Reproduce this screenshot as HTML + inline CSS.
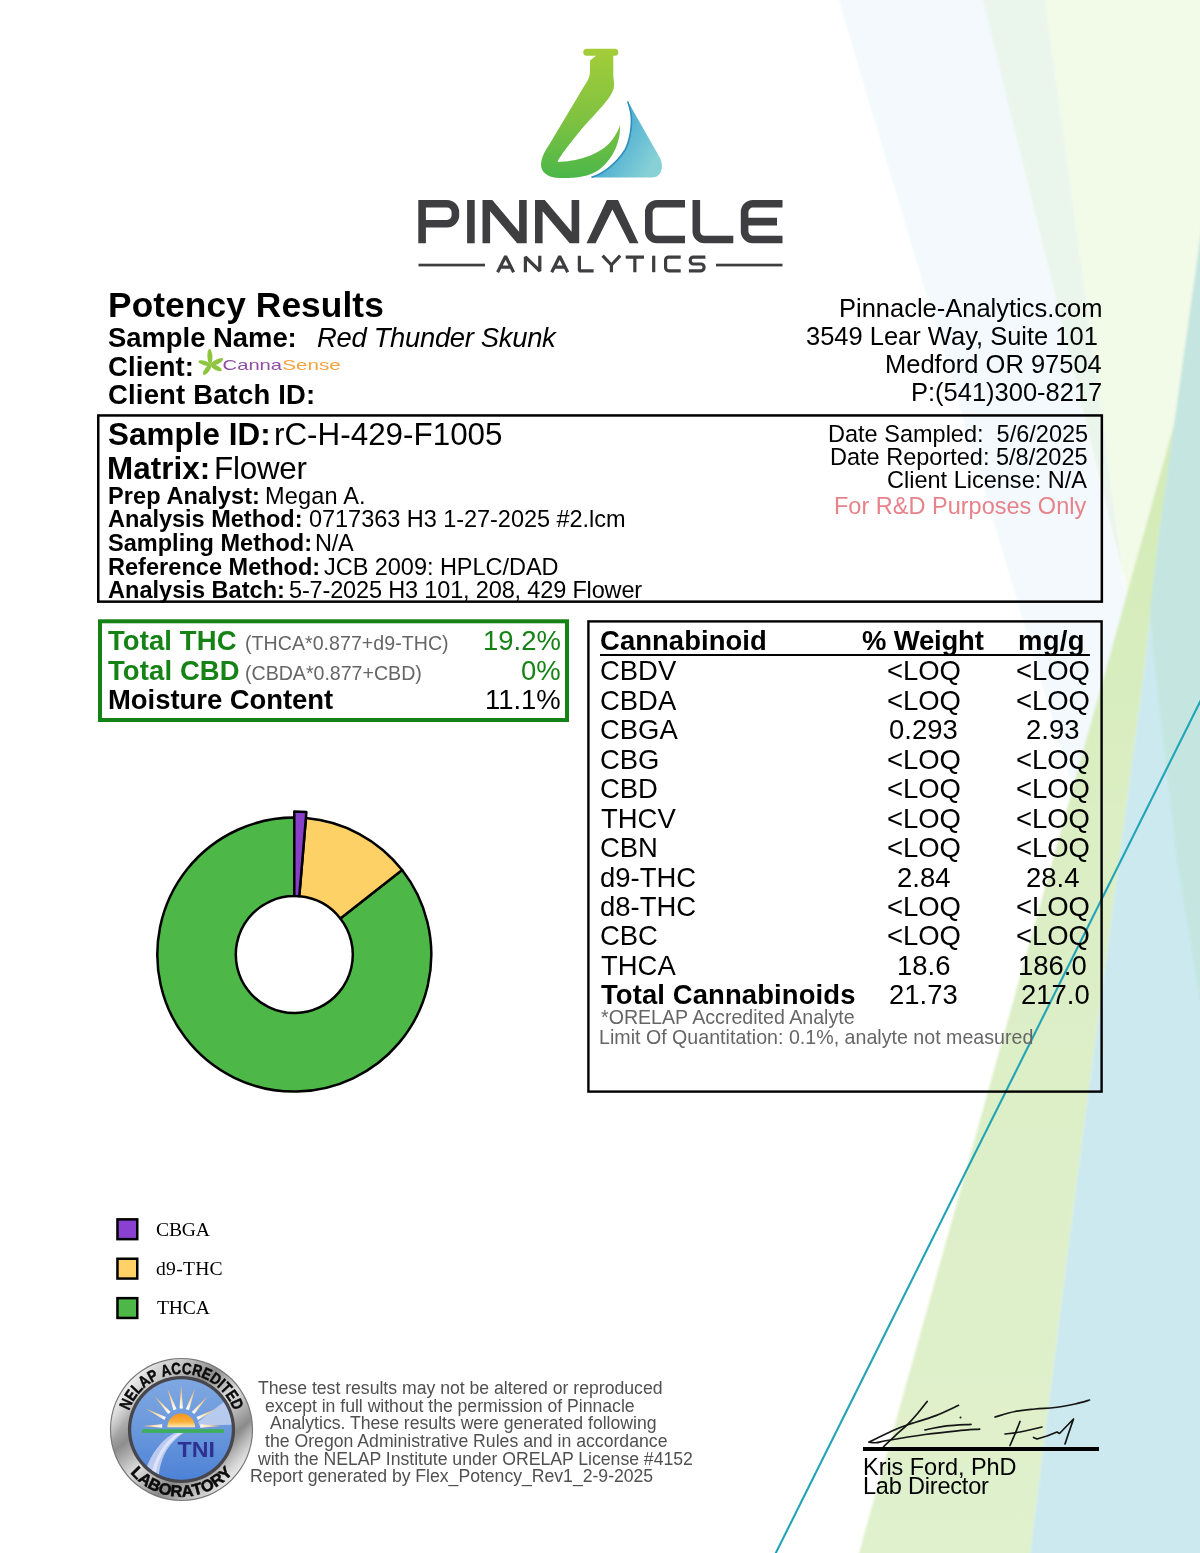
<!DOCTYPE html>
<html lang="en">
<head>
<meta charset="utf-8">
<title>Potency Results - Pinnacle Analytics</title>
<style>
html,body{margin:0;padding:0;background:#fff;}
body{width:1200px;height:1553px;position:relative;overflow:hidden;font-family:"Liberation Sans",sans-serif;color:#000;}
.t{position:absolute;white-space:pre;line-height:1;margin:0;padding:0;will-change:transform;}
.box{position:absolute;box-sizing:content-box;}
svg{position:absolute;left:0;top:0;overflow:visible;}
</style>
</head>
<body>
<svg width="1200" height="1553" viewBox="0 0 1200 1553">
<defs>
<filter id="bgBlur" x="-5%" y="-5%" width="110%" height="110%"><feGaussianBlur stdDeviation="1.3"/></filter>
<linearGradient id="bgLime" gradientUnits="userSpaceOnUse" x1="0" y1="430" x2="0" y2="1553"><stop offset="0" stop-color="#d3ebb6"/><stop offset="0.35" stop-color="#dbeec4"/><stop offset="1" stop-color="#e0f1cd"/></linearGradient>
</defs>
<g filter="url(#bgBlur)">
<polygon points="1036.6,-60 1260,-60 1260,890 1127,597" fill="#f2fae8"/>
<polygon points="821,-60 968.5,-60 1200,900 1260,1149 1260,1418 1200,1216" fill="#f3f9fc"/>
<polygon points="968.5,-60 1036.6,-60 1124,580" fill="#eaf5ec"/>
<polygon points="1260,425 1260,1620 1021.6,1620 1030,1553 1078,1170 1119,860 1144,670 1158,541 1174,425" fill="#cce9ef"/>
<polygon points="1174,425 1158,541 1144,670 1119,860 1078,1170 1030,1553 1021.6,1620 840,1620 859,1553 1103,680" fill="url(#bgLime)"/>
<polygon points="1260,-187 1260,1365 1200,1000 1177,860 1154,660 1150,610 1158,541 1174,425 1200,240" fill="#c5e6e0"/>
</g>
<line x1="1201" y1="699.9" x2="774.8" y2="1555" stroke="#23a3b6" stroke-width="2.1"/>
</svg>

<svg width="1200" height="300" viewBox="0 0 1200 300">
<defs>
<linearGradient id="gG" x1="0" y1="0" x2="0" y2="1"><stop offset="0" stop-color="#a4cd39"/><stop offset="0.55" stop-color="#7fc241"/><stop offset="1" stop-color="#4bb749"/></linearGradient>
<linearGradient id="gB" x1="0" y1="0" x2="1" y2="0.6"><stop offset="0" stop-color="#3d9dc9"/><stop offset="0.55" stop-color="#56b4d2"/><stop offset="1" stop-color="#86d0d6"/></linearGradient>
</defs>
<!-- flask green -->
<path fill="url(#gG)" d="M586.8 48.7 H614.8 a3.5 3.5 0 0 1 0 7.1 H613.3 V74 C613.3 80 615 84 613.5 89 C610 101 590 118 576 136 C568 146 560 156 557.5 162 C575 161.5 600 156 612 140 C616.5 134 619 129 620 125 C621 140 614 158 600 169 C590 177 575 178.2 560 178 C548 178 540.5 172 541 164 C541.5 157 545 151 549 145 L583 88 C588 80 590 78 590 70 V60.5 L596 55.8 H586.8 a3.5 3.5 0 0 1 0 -7.1 Z"/>
<!-- flask blue -->
<path fill="url(#gB)" d="M627.5 100.8 L660 158 C664 166 662 177.5 652 177.5 H590.8 C603 174 617 163 625 150 C630 141 632.5 125 631 114 C630.3 109 629 105 627.5 100.8 Z"/>
<path fill="none" stroke="#2f8fbd" stroke-width="1.6" d="M627.7 101.5 C629 105 630.3 109 631 114 C632.5 125 630 141 625 150 C617 163 603 174 591.5 177.2"/>
<!-- PINNACLE -->
<g fill="none" stroke="#3e3e40" stroke-width="7.6" stroke-linejoin="miter">
<path d="M422.1 243.3 V203.8 H447 a8.4 8.4 0 0 1 8.4 8.4 V215.3 a8.4 8.4 0 0 1 -8.4 8.4 H422.1"/>
<path d="M470.9 200 V243.3"/>
<path d="M648.8 203.8 m36.2 0 H657 a8.2 8.2 0 0 0 -8.2 8.2 V231.3 a8.2 8.2 0 0 0 8.2 8.2 H685"/>
<path d="M696.3 200 V231.3 a8.2 8.2 0 0 0 8.2 8.2 H733.3"/>
<path d="M782.5 203.8 H752.8 a8.2 8.2 0 0 0 -8.2 8.2 V231.3 a8.2 8.2 0 0 0 8.2 8.2 H782.5 M744.6 221.6 H777"/>
</g>
<g fill="#3e3e40">
<path d="M482.5 243.3 V200 H492.3 L519.1 231.8 V200 H526.7 V243.3 H517.2 L490.1 211.3 V243.3 Z"/>
<path d="M535 243.3 V200 H544.8 L571.6 231.8 V200 H579.2 V243.3 H569.7 L542.6 211.3 V243.3 Z"/>
<path d="M586.5 243.3 L606.8 200 H618 L638.5 243.3 H629.6 L612.4 209.5 L595.6 243.3 Z"/>
</g>
<!-- ANALYTICS -->
<g fill="none" stroke="#3e3e40" stroke-width="3.2" stroke-linejoin="bevel">
<path d="M497.6 272.2 L505.6 256.2 L513.6 272.2 M500.6 267.2 H510.6"/>
<path d="M525.4 272.2 V257 L539.8 271 V255.7"/>
<path d="M551.7 272.2 L559.7 256.2 L567.7 272.2 M554.7 267.2 H564.7"/>
<path d="M579.4 255.7 V270.8 H593.6"/>
<path d="M602.6 255.7 L611.4 265 L620.2 255.7 M611.4 265 V272.2"/>
<path d="M625.7 257.1 H644 M634.85 257.1 V272.2"/>
<path d="M653.7 255.7 V272.2"/>
<path d="M680.7 257.1 H668.6 a3 3 0 0 0 -3 3 V267.8 a3 3 0 0 0 3 3 H680.7"/>
<path d="M705.4 257.1 H693.3 a3 3 0 0 0 -3 3 v0.9 a3 3 0 0 0 3 3 H701 a3 3 0 0 1 3 3 v0.8 a3 3 0 0 1 -3 3 H688.9"/>
</g>
<rect x="418.5" y="263.7" width="66.5" height="2.7" fill="#3e3e40"/>
<rect x="716" y="263.7" width="66.5" height="2.7" fill="#3e3e40"/>
</svg>

<div class="t" style="left:107.71px;top:287px;font-size:35.29px;font-weight:bold;letter-spacing:0.095px;">Potency Results</div>
<div class="t" style="left:108.25px;top:324px;font-size:27.45px;font-weight:bold;letter-spacing:-0.031px;">Sample Name:</div>
<div class="t" style="left:316.68px;top:324px;font-size:27.45px;font-style:italic;letter-spacing:-0.326px;">Red Thunder Skunk</div>
<div class="t" style="left:107.90px;top:353px;font-size:27.45px;font-weight:bold;letter-spacing:0.106px;">Client:</div>
<div class="t" style="left:107.90px;top:381px;font-size:27.45px;font-weight:bold;letter-spacing:0.189px;">Client Batch ID:</div>
<svg width="1200" height="420" viewBox="0 0 1200 420">
<g fill="#8dc540">
<ellipse cx="209.9" cy="356.6" rx="2.5" ry="7.6" transform="rotate(-3 209.9 356.6)"/>
<ellipse cx="217" cy="361.8" rx="2.4" ry="6.8" transform="rotate(63.4 217 361.8)"/>
<ellipse cx="216.4" cy="367.9" rx="2.3" ry="5.9" transform="rotate(116.4 216.4 367.9)"/>
<ellipse cx="207.1" cy="369.8" rx="2.4" ry="6.2" transform="rotate(36.1 207.1 369.8)"/>
<ellipse cx="204.6" cy="363.1" rx="2.3" ry="6.4" transform="rotate(-72.4 204.6 363.1)"/>
</g>
<text x="222.6" y="370.2" font-family="Liberation Sans, sans-serif" font-size="14.6" fill="#8f4ea3" textLength="59.5" lengthAdjust="spacingAndGlyphs">Canna</text>
<text x="282.3" y="370.2" font-family="Liberation Sans, sans-serif" font-size="14.6" fill="#f3a33e" textLength="58.5" lengthAdjust="spacingAndGlyphs">Sense</text>
</svg>

<div class="t" style="left:838.75px;top:296px;font-size:25.49px;">Pinnacle-Analytics.com</div>
<div class="t" style="left:806.35px;top:324px;font-size:25.49px;">3549 Lear Way, Suite 101</div>
<div class="t" style="left:884.51px;top:352px;font-size:25.49px;">Medford OR 97504</div>
<div class="t" style="left:910.51px;top:380px;font-size:25.49px;">P:(541)300-8217</div>
<svg width="1200" height="1553"><rect x="98.25" y="415.45" width="1003.60" height="186.20" fill="none" stroke="#000" stroke-width="2.5"/></svg>
<div class="t" style="left:108.04px;top:419px;font-size:31.37px;font-weight:bold;letter-spacing:0.069px;">Sample ID:</div>
<div class="t" style="left:274.26px;top:419px;font-size:31.37px;letter-spacing:0.016px;">rC-H-429-F1005</div>
<div class="t" style="left:107.36px;top:453px;font-size:31.37px;font-weight:bold;letter-spacing:0.083px;">Matrix:</div>
<div class="t" style="left:214.19px;top:453px;font-size:31.37px;letter-spacing:-0.227px;">Flower</div>
<div class="t" style="left:107.87px;top:485px;font-size:23.53px;font-weight:bold;letter-spacing:0.103px;">Prep Analyst:</div>
<div class="t" style="left:264.82px;top:485px;font-size:23.53px;letter-spacing:0.170px;">Megan A.</div>
<div class="t" style="left:107.91px;top:508px;font-size:23.53px;font-weight:bold;letter-spacing:-0.009px;">Analysis Method:</div>
<div class="t" style="left:308.62px;top:508px;font-size:23.53px;letter-spacing:-0.045px;">0717363 H3 1-27-2025 #2.lcm</div>
<div class="t" style="left:108.15px;top:532px;font-size:23.53px;font-weight:bold;letter-spacing:0.013px;">Sampling Method:</div>
<div class="t" style="left:315.12px;top:532px;font-size:23.53px;letter-spacing:-0.247px;">N/A</div>
<div class="t" style="left:107.97px;top:556px;font-size:23.53px;font-weight:bold;letter-spacing:0.031px;">Reference Method:</div>
<div class="t" style="left:324.15px;top:556px;font-size:23.53px;letter-spacing:-0.044px;">JCB 2009: HPLC/DAD</div>
<div class="t" style="left:108.21px;top:579px;font-size:23.53px;font-weight:bold;letter-spacing:0.035px;">Analysis Batch:</div>
<div class="t" style="left:288.56px;top:579px;font-size:23.53px;letter-spacing:-0.162px;">5-7-2025 H3 101, 208, 429 Flower</div>
<div class="t" style="left:827.55px;top:423px;font-size:23.53px;">Date Sampled:  5/6/2025</div>
<div class="t" style="left:830.14px;top:446px;font-size:23.53px;">Date Reported: 5/8/2025</div>
<div class="t" style="left:887.44px;top:469px;font-size:23.53px;">Client License: N/A</div>
<div class="t" style="left:833.95px;top:495px;font-size:23.53px;color:#e8828a;">For R&amp;D Purposes Only</div>
<svg width="1200" height="1553"><rect x="100.00" y="621.30" width="467.00" height="98.70" fill="none" stroke="#158215" stroke-width="4"/></svg>
<div class="t" style="left:108.23px;top:627px;font-size:27.45px;font-weight:bold;color:#158215;letter-spacing:0.119px;">Total THC</div>
<div class="t" style="left:245.12px;top:634px;font-size:19.61px;color:#666;letter-spacing:0.023px;">(THCA*0.877+d9-THC)</div>
<div class="t" style="left:483.07px;top:627px;font-size:27.45px;color:#158215;">19.2%</div>
<div class="t" style="left:108.23px;top:657px;font-size:27.45px;font-weight:bold;color:#158215;letter-spacing:0.126px;">Total CBD</div>
<div class="t" style="left:245.12px;top:664px;font-size:19.61px;color:#666;letter-spacing:-0.020px;">(CBDA*0.877+CBD)</div>
<div class="t" style="left:521.29px;top:657px;font-size:27.45px;color:#158215;">0%</div>
<div class="t" style="left:107.52px;top:686px;font-size:27.45px;font-weight:bold;letter-spacing:-0.024px;">Moisture Content</div>
<div class="t" style="left:485.13px;top:686px;font-size:27.45px;">11.1%</div>
<svg width="1200" height="1553"><rect x="588.40" y="621.40" width="513.20" height="470.20" fill="none" stroke="#000" stroke-width="2.4"/></svg>
<div class="t" style="left:599.90px;top:627px;font-size:27.45px;font-weight:bold;letter-spacing:0.067px;">Cannabinoid</div>
<div class="t" style="left:862.38px;top:627px;font-size:27.45px;font-weight:bold;letter-spacing:-0.170px;">% Weight</div>
<div class="t" style="left:1018.22px;top:627px;font-size:27.45px;font-weight:bold;letter-spacing:0.343px;">mg/g</div>
<div class="box" style="left:600.00px;top:653.70px;width:490.30px;height:2.30px;background:#000;"></div>
<div class="t" style="left:599.83px;top:657px;font-size:27.45px;">CBDV</div>
<div class="t" style="left:886.71px;top:657px;font-size:27.45px;">&lt;LOQ</div>
<div class="t" style="left:1016.01px;top:657px;font-size:27.45px;">&lt;LOQ</div>
<div class="t" style="left:599.83px;top:687px;font-size:27.45px;">CBDA</div>
<div class="t" style="left:886.71px;top:687px;font-size:27.45px;">&lt;LOQ</div>
<div class="t" style="left:1016.01px;top:687px;font-size:27.45px;">&lt;LOQ</div>
<div class="t" style="left:599.83px;top:716px;font-size:27.45px;">CBGA</div>
<div class="t" style="left:889.42px;top:716px;font-size:27.45px;">0.293</div>
<div class="t" style="left:1026.20px;top:716px;font-size:27.45px;">2.93</div>
<div class="t" style="left:599.83px;top:746px;font-size:27.45px;">CBG</div>
<div class="t" style="left:886.71px;top:746px;font-size:27.45px;">&lt;LOQ</div>
<div class="t" style="left:1016.01px;top:746px;font-size:27.45px;">&lt;LOQ</div>
<div class="t" style="left:599.83px;top:775px;font-size:27.45px;">CBD</div>
<div class="t" style="left:886.71px;top:775px;font-size:27.45px;">&lt;LOQ</div>
<div class="t" style="left:1016.01px;top:775px;font-size:27.45px;">&lt;LOQ</div>
<div class="t" style="left:600.65px;top:805px;font-size:27.45px;">THCV</div>
<div class="t" style="left:886.71px;top:805px;font-size:27.45px;">&lt;LOQ</div>
<div class="t" style="left:1016.01px;top:805px;font-size:27.45px;">&lt;LOQ</div>
<div class="t" style="left:599.83px;top:834px;font-size:27.45px;">CBN</div>
<div class="t" style="left:886.71px;top:834px;font-size:27.45px;">&lt;LOQ</div>
<div class="t" style="left:1016.01px;top:834px;font-size:27.45px;">&lt;LOQ</div>
<div class="t" style="left:600.10px;top:864px;font-size:27.45px;">d9-THC</div>
<div class="t" style="left:896.70px;top:864px;font-size:27.45px;">2.84</div>
<div class="t" style="left:1026.00px;top:864px;font-size:27.45px;">28.4</div>
<div class="t" style="left:600.10px;top:893px;font-size:27.45px;">d8-THC</div>
<div class="t" style="left:886.71px;top:893px;font-size:27.45px;">&lt;LOQ</div>
<div class="t" style="left:1016.01px;top:893px;font-size:27.45px;">&lt;LOQ</div>
<div class="t" style="left:599.83px;top:922px;font-size:27.45px;">CBC</div>
<div class="t" style="left:886.71px;top:922px;font-size:27.45px;">&lt;LOQ</div>
<div class="t" style="left:1016.01px;top:922px;font-size:27.45px;">&lt;LOQ</div>
<div class="t" style="left:600.65px;top:952px;font-size:27.45px;">THCA</div>
<div class="t" style="left:896.56px;top:952px;font-size:27.45px;">18.6</div>
<div class="t" style="left:1018.14px;top:952px;font-size:27.45px;">186.0</div>
<div class="t" style="left:600.53px;top:981px;font-size:27.45px;font-weight:bold;letter-spacing:0.111px;">Total Cannabinoids</div>
<div class="t" style="left:888.85px;top:981px;font-size:27.45px;">21.73</div>
<div class="t" style="left:1020.98px;top:981px;font-size:27.45px;">217.0</div>
<div class="t" style="left:600.71px;top:1008px;font-size:19.61px;color:#666;">*ORELAP Accredited Analyte</div>
<div class="t" style="left:599.43px;top:1028px;font-size:19.61px;color:#666;letter-spacing:0.011px;">Limit Of Quantitation: 0.1%, analyte not measured</div>
<svg width="1200" height="1553" viewBox="0 0 1200 1553">
<g stroke="#000" stroke-width="2.5" stroke-linejoin="round">
<path d="M402.11 870.06 A137.0 137.0 0 1 1 294.30 817.60 L294.30 896.10 A58.5 58.5 0 1 0 340.33 918.50 Z" fill="#4db748"/>
<path d="M305.89 818.09 A137.0 137.0 0 0 1 402.11 870.06 L340.33 918.50 A58.5 58.5 0 0 0 299.25 896.31 Z" fill="#fdd166"/>
<path d="M294.30 811.60 A143.0 143.0 0 0 1 306.40 812.11 L299.25 896.31 A58.5 58.5 0 0 0 294.30 896.10 Z" fill="#8940c9"/>
</g>
</svg>

<svg width="1200" height="1553"><rect x="117.45" y="1219.35" width="19.80" height="19.80" fill="#8a41d1" stroke="#000" stroke-width="2.5"/></svg>
<div class="t" style="left:156.22px;top:1220px;font-size:19.61px;font-family:'Liberation Serif',serif;letter-spacing:-0.176px;">CBGA</div>
<svg width="1200" height="1553"><rect x="117.45" y="1258.75" width="19.80" height="19.80" fill="#ffd166" stroke="#000" stroke-width="2.5"/></svg>
<div class="t" style="left:156.31px;top:1259px;font-size:19.61px;font-family:'Liberation Serif',serif;letter-spacing:0.264px;">d9-THC</div>
<svg width="1200" height="1553"><rect x="117.45" y="1298.15" width="19.80" height="19.80" fill="#4db848" stroke="#000" stroke-width="2.5"/></svg>
<div class="t" style="left:156.66px;top:1298px;font-size:19.61px;font-family:'Liberation Serif',serif;letter-spacing:-0.164px;">THCA</div>
<svg width="1200" height="1553" viewBox="0 0 1200 1553">
<defs>
<linearGradient id="bRing" x1="0.1" y1="0" x2="0.9" y2="1">
<stop offset="0" stop-color="#fafafa"/><stop offset="0.2" stop-color="#c9c9c9"/><stop offset="0.36" stop-color="#8d8d8d"/><stop offset="0.52" stop-color="#dedede"/><stop offset="0.7" stop-color="#8a8a8a"/><stop offset="0.86" stop-color="#d0d0d0"/><stop offset="1" stop-color="#f4f4f4"/>
</linearGradient>
<linearGradient id="bRing2" x1="0" y1="0.2" x2="1" y2="0.8">
<stop offset="0" stop-color="#ffffff" stop-opacity="0.85"/><stop offset="0.18" stop-color="#ffffff" stop-opacity="0"/><stop offset="0.82" stop-color="#ffffff" stop-opacity="0"/><stop offset="1" stop-color="#ffffff" stop-opacity="0.7"/>
</linearGradient>
<linearGradient id="bSky" x1="0" y1="0" x2="0" y2="1"><stop offset="0" stop-color="#7fa8e2"/><stop offset="0.5" stop-color="#6a98dc"/><stop offset="1" stop-color="#4d82d6"/></linearGradient>
<linearGradient id="bSun" x1="0" y1="0" x2="0" y2="1"><stop offset="0" stop-color="#f7931e"/><stop offset="0.6" stop-color="#fbb03b"/><stop offset="1" stop-color="#ffe9b0"/></linearGradient>
<radialGradient id="bRayC" gradientUnits="userSpaceOnUse" cx="181.2" cy="1426.6" r="42"><stop offset="0.42" stop-color="#ffffff"/><stop offset="0.7" stop-color="#fbd9a5"/><stop offset="1" stop-color="#f0a860"/></radialGradient>
<radialGradient id="bRayL" gradientUnits="userSpaceOnUse" cx="181.2" cy="1426.6" r="42"><stop offset="0.42" stop-color="#ffffff"/><stop offset="0.7" stop-color="#fbd9a5"/><stop offset="1" stop-color="#f0a860"/></radialGradient>
<radialGradient id="bRayR" gradientUnits="userSpaceOnUse" cx="181.2" cy="1426.6" r="42"><stop offset="0.42" stop-color="#ffffff"/><stop offset="0.7" stop-color="#fbd9a5"/><stop offset="1" stop-color="#f0a860"/></radialGradient>
<clipPath id="bClip"><circle cx="181.5" cy="1429.5" r="50.3"/></clipPath>
</defs>
<circle cx="181.5" cy="1429.5" r="71.6" fill="#77777a"/>
<circle cx="181.5" cy="1429.5" r="70.4" fill="url(#bRing)"/>
<circle cx="181.5" cy="1429.5" r="70.4" fill="url(#bRing2)"/>
<circle cx="181.5" cy="1429.5" r="53.6" fill="#46464c"/>
<circle cx="181.5" cy="1429.5" r="50.3" fill="url(#bSky)"/>
<g clip-path="url(#bClip)">
<polygon points="198.2,1421.6 236,1392.6 236,1424.6 199.2,1425.6" fill="#c9d6f3" opacity="0.8"/>
<path d="M175.5 1432.5 C160 1440 148 1458 143.5 1478 L158.5 1484 C158.5 1462 166 1444 184.5 1432.5 Z" fill="#bccaf0"/>
<path d="M178.5 1432.5 C164 1441 154 1458 150 1480 L154.5 1482 C156 1461 165 1444 182.5 1432.5 Z" fill="#e4eafb" opacity="0.8"/>
<polygon points="162.2,1424.3 162.2,1427.7 142.7,1426.0" fill="url(#bRayL)"/>
<polygon points="165.9,1416.9 164.4,1419.9 145.6,1408.4" fill="url(#bRayL)"/>
<polygon points="170.7,1411.9 168.1,1414.1 154.3,1395.7" fill="url(#bRayL)"/>
<polygon points="176.6,1409.1 173.4,1410.3 167.2,1388.1" fill="url(#bRayL)"/>
<polygon points="182.9,1408.6 179.5,1408.6 181.2,1384.6" fill="url(#bRayC)"/>
<polygon points="189.0,1410.3 185.8,1409.1 195.2,1388.1" fill="url(#bRayR)"/>
<polygon points="194.3,1414.1 191.7,1411.9 208.1,1395.7" fill="url(#bRayR)"/>
<polygon points="198.0,1419.9 196.5,1416.9 216.8,1408.4" fill="url(#bRayR)"/>
<polygon points="200.2,1427.7 200.2,1424.3 221.2,1426.0" fill="url(#bRayR)"/>
<path d="M167.39999999999998 1427.1999999999998 A13.8 13.8 0 0 1 195.0 1427.1999999999998 Z" fill="url(#bSun)"/>
<rect x="142" y="1429.2" width="82" height="3.7" fill="#3daf5c"/>
</g>
<text x="177.6" y="1456.7" font-family="Liberation Sans, sans-serif" font-weight="bold" font-size="22.4" fill="#2e3192" textLength="37.3" lengthAdjust="spacingAndGlyphs">TNI</text>
<g font-family="Liberation Sans, sans-serif" font-weight="bold" fill="#0a0a0a" stroke="#0a0a0a" stroke-width="0.5">
<text transform="translate(181.5 1429.5) rotate(-65.52) translate(0 -55.60) scale(0.826 1)" text-anchor="middle" font-size="16.2">N</text>
<text transform="translate(181.5 1429.5) rotate(-55.94) translate(0 -55.60) scale(0.826 1)" text-anchor="middle" font-size="16.2">E</text>
<text transform="translate(181.5 1429.5) rotate(-47.13) translate(0 -55.60) scale(0.826 1)" text-anchor="middle" font-size="16.2">L</text>
<text transform="translate(181.5 1429.5) rotate(-37.93) translate(0 -55.60) scale(0.826 1)" text-anchor="middle" font-size="16.2">A</text>
<text transform="translate(181.5 1429.5) rotate(-28.35) translate(0 -55.60) scale(0.826 1)" text-anchor="middle" font-size="16.2">P</text>
<text transform="translate(181.5 1429.5) rotate(-14.94) translate(0 -55.60) scale(0.826 1)" text-anchor="middle" font-size="16.2">A</text>
<text transform="translate(181.5 1429.5) rotate(-4.98) translate(0 -55.60) scale(0.826 1)" text-anchor="middle" font-size="16.2">C</text>
<text transform="translate(181.5 1429.5) rotate(4.98) translate(0 -55.60) scale(0.826 1)" text-anchor="middle" font-size="16.2">C</text>
<text transform="translate(181.5 1429.5) rotate(14.94) translate(0 -55.60) scale(0.826 1)" text-anchor="middle" font-size="16.2">R</text>
<text transform="translate(181.5 1429.5) rotate(24.52) translate(0 -55.60) scale(0.826 1)" text-anchor="middle" font-size="16.2">E</text>
<text transform="translate(181.5 1429.5) rotate(34.10) translate(0 -55.60) scale(0.826 1)" text-anchor="middle" font-size="16.2">D</text>
<text transform="translate(181.5 1429.5) rotate(41.00) translate(0 -55.60) scale(0.826 1)" text-anchor="middle" font-size="16.2">I</text>
<text transform="translate(181.5 1429.5) rotate(47.13) translate(0 -55.60) scale(0.826 1)" text-anchor="middle" font-size="16.2">T</text>
<text transform="translate(181.5 1429.5) rotate(55.94) translate(0 -55.60) scale(0.826 1)" text-anchor="middle" font-size="16.2">E</text>
<text transform="translate(181.5 1429.5) rotate(65.52) translate(0 -55.60) scale(0.826 1)" text-anchor="middle" font-size="16.2">D</text>
<text transform="translate(181.5 1429.5) rotate(45.44) translate(0 67.20) scale(1.021 1)" text-anchor="middle" font-size="16.2">L</text>
<text transform="translate(181.5 1429.5) rotate(36.04) translate(0 67.20) scale(1.021 1)" text-anchor="middle" font-size="16.2">A</text>
<text transform="translate(181.5 1429.5) rotate(25.86) translate(0 67.20) scale(1.021 1)" text-anchor="middle" font-size="16.2">B</text>
<text transform="translate(181.5 1429.5) rotate(15.28) translate(0 67.20) scale(1.021 1)" text-anchor="middle" font-size="16.2">O</text>
<text transform="translate(181.5 1429.5) rotate(4.70) translate(0 67.20) scale(1.021 1)" text-anchor="middle" font-size="16.2">R</text>
<text transform="translate(181.5 1429.5) rotate(-5.48) translate(0 67.20) scale(1.021 1)" text-anchor="middle" font-size="16.2">A</text>
<text transform="translate(181.5 1429.5) rotate(-14.88) translate(0 67.20) scale(1.021 1)" text-anchor="middle" font-size="16.2">T</text>
<text transform="translate(181.5 1429.5) rotate(-24.67) translate(0 67.20) scale(1.021 1)" text-anchor="middle" font-size="16.2">O</text>
<text transform="translate(181.5 1429.5) rotate(-35.25) translate(0 67.20) scale(1.021 1)" text-anchor="middle" font-size="16.2">R</text>
<text transform="translate(181.5 1429.5) rotate(-45.05) translate(0 67.20) scale(1.021 1)" text-anchor="middle" font-size="16.2">Y</text>
</g>
</svg>

<div class="t" style="left:257.65px;top:1380px;font-size:17.65px;color:#505050;letter-spacing:-0.009px;">These test results may not be altered or reproduced</div>
<div class="t" style="left:265.25px;top:1398px;font-size:17.65px;color:#505050;letter-spacing:-0.022px;">except in full without the permission of Pinnacle</div>
<div class="t" style="left:269.60px;top:1415px;font-size:17.65px;color:#505050;letter-spacing:-0.009px;">Analytics. These results were generated following</div>
<div class="t" style="left:265.34px;top:1433px;font-size:17.65px;color:#505050;letter-spacing:0.009px;">the Oregon Administrative Rules and in accordance</div>
<div class="t" style="left:258.04px;top:1451px;font-size:17.65px;color:#505050;letter-spacing:-0.018px;">with the NELAP Institute under ORELAP License #4152</div>
<div class="t" style="left:249.59px;top:1468px;font-size:17.65px;color:#505050;letter-spacing:-0.019px;">Report generated by Flex_Potency_Rev1_2-9-2025</div>
<svg width="1200" height="1553" viewBox="0 0 1200 1553">
<g fill="none" stroke="#151515" stroke-width="1.7" stroke-linecap="round" stroke-linejoin="round">
<path d="M927.2 1401.5 C925.7 1403.4 921.2 1409.2 918.0 1413.0 C914.8 1416.8 911.4 1420.6 907.7 1424.3 C904.0 1428.0 899.9 1431.3 895.8 1435.1 C891.7 1438.9 885.4 1445.0 883.3 1447.0"/>
<path d="M958.6 1405.3 C954.8 1407.0 944.3 1412.3 935.8 1415.6 C927.3 1418.8 914.9 1422.3 907.7 1424.8 C900.5 1427.3 898.9 1427.9 892.5 1430.8 C886.1 1433.7 873.1 1440.2 869.2 1442.1"/>
<path d="M869.2 1442.1 C870.4 1442.2 873.3 1443.0 876.3 1442.7 C879.3 1442.4 879.0 1441.9 887.1 1440.5 C895.2 1439.1 913.3 1436.1 925.0 1434.5 C936.7 1432.9 948.4 1431.7 957.5 1430.8 C966.6 1429.9 976.0 1429.4 979.7 1429.1"/>
<path d="M925.0 1429.9 C928.6 1429.2 939.0 1426.8 946.7 1425.9 C954.4 1425.0 967.0 1424.6 971.0 1424.3"/>
<path d="M995.0 1417.0 C998.3 1416.1 1008.3 1412.8 1015.0 1411.5 C1021.7 1410.2 1028.3 1409.7 1035.0 1409.0 C1041.7 1408.3 1048.3 1408.3 1055.0 1407.5 C1061.7 1406.7 1069.2 1405.2 1075.0 1404.0 C1080.8 1402.8 1087.1 1400.7 1089.5 1400.0"/>
<path d="M1020.0 1421.5 C1019.2 1423.6 1016.7 1430.0 1015.0 1434.0 C1013.3 1438.0 1010.8 1443.6 1010.0 1445.5"/>
<path d="M1005.0 1434.0 C1007.5 1433.7 1013.8 1433.2 1020.0 1432.0 C1026.2 1430.8 1038.3 1427.8 1042.0 1427.0"/>
<path d="M1033.5 1437.5 L1037.0 1439.0 L1047.0 1436.0 L1057.0 1432.0 L1059.5 1433.5 L1073.5 1419.0 L1069.0 1432.0 L1065.0 1444.0"/>
</g>
<circle cx="960.5" cy="1417.4" r="1" fill="#151515"/>
</svg>

<div class="box" style="left:862.80px;top:1447.00px;width:236.00px;height:4.20px;background:#000;"></div>
<div class="t" style="left:862.92px;top:1456px;font-size:23.53px;letter-spacing:-0.046px;">Kris Ford, PhD</div>
<div class="t" style="left:862.92px;top:1475px;font-size:23.53px;letter-spacing:-0.204px;">Lab Director</div>
</body>
</html>
